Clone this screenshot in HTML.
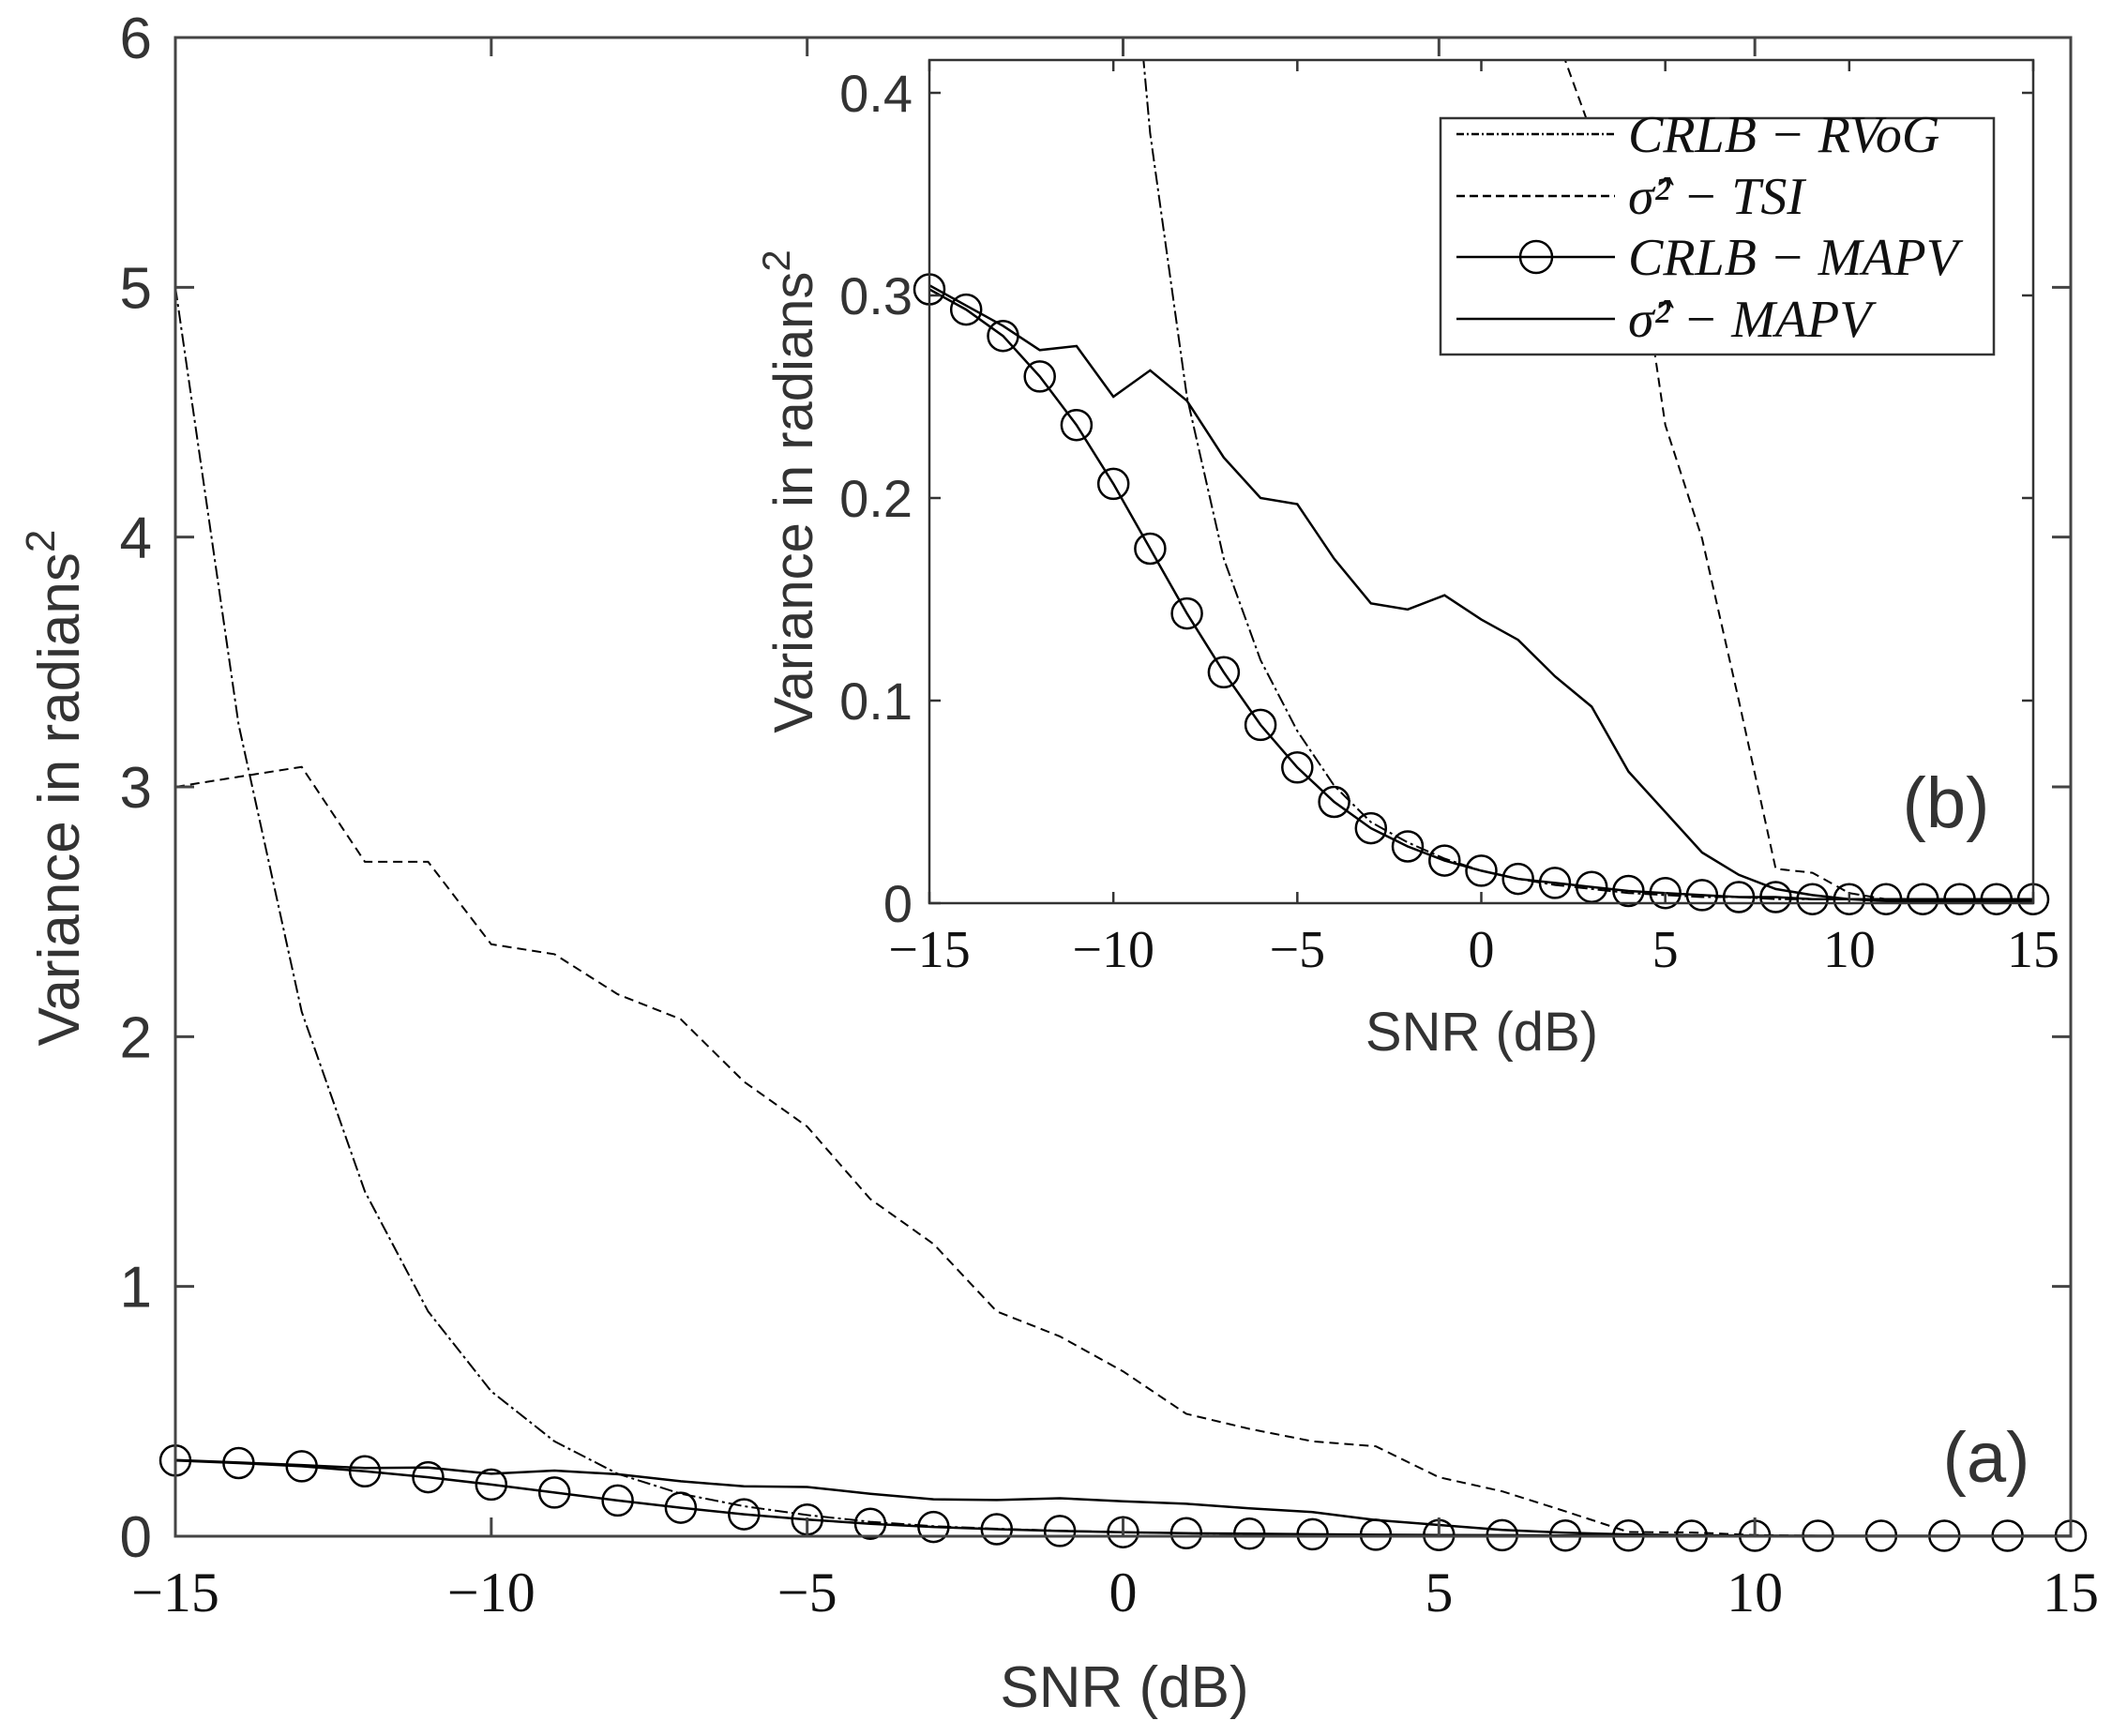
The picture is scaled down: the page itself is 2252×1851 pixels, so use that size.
<!DOCTYPE html>
<html><head><meta charset="utf-8"><style>
html,body{margin:0;padding:0;background:#fff;}
svg{display:block;}
</style></head><body>
<svg id="s" xmlns="http://www.w3.org/2000/svg" width="2252" height="1851" viewBox="0 0 2252 1851"></svg>
<script>
const S=document.getElementById('s');
let h='';
const d=[];for(let i=-15;i<=15;i++)d.push(i);
const rvog=[5.0,3.25,2.1,1.38,0.9,0.58,0.38,0.25,0.17,0.12,0.085,0.058,0.04,0.03,0.022,0.016,0.012,0.009,0.007,0.005,0.004,0.003,0.003,0.002,0.002,0.002,0.002,0.002,0.002,0.002,0.002];
const tsi=[3.0,3.04,3.08,2.7,2.7,2.37,2.33,2.17,2.07,1.82,1.64,1.35,1.17,0.9,0.8,0.66,0.49,0.43,0.38,0.36,0.236,0.18,0.1,0.017,0.015,0.005,0.002,0.002,0.002,0.002,0.002];
const smapv=[0.305,0.295,0.285,0.273,0.275,0.25,0.263,0.248,0.22,0.2,0.197,0.17,0.148,0.145,0.152,0.14,0.13,0.112,0.097,0.065,0.045,0.025,0.014,0.007,0.004,0.002,0.001,0.001,0.001,0.001,0.001];
const cmapv=[0.303,0.293,0.28,0.26,0.236,0.207,0.175,0.143,0.114,0.088,0.067,0.05,0.037,0.028,0.021,0.016,0.012,0.01,0.008,0.006,0.005,0.004,0.003,0.003,0.002,0.002,0.002,0.002,0.002,0.002,0.002];
function plot(X,Y,ymax,clip){
  const line=(arr,dash,w)=>{let p=d.map((k,i)=>X(k).toFixed(1)+','+Y(arr[i]).toFixed(1)).join(' ');
    h+=`<polyline points="${p}" fill="none" stroke="#000" stroke-width="${w}" stroke-dasharray="${dash}" clip-path="url(#${clip})"/>`;};
  line(rvog,'14,4,3,4',2);
  line(tsi,'10,6',2);
  line(smapv,'',2.5);
  line(cmapv,'',2.5);
  d.forEach((k,i)=>{h+=`<circle cx="${X(k).toFixed(1)}" cy="${Y(cmapv[i]).toFixed(1)}" r="16" fill="none" stroke="#000" stroke-width="2.5"/>`;});
}
const L=187,R=2208,T=40,B=1638;
const MX=k=>L+(k+15)*(R-L)/30, MY=v=>B-v*(B-T)/6;
h+=`<defs><clipPath id="cm"><rect x="${L}" y="${T}" width="${R-L}" height="${B-T}"/></clipPath>
<clipPath id="ci"><rect x="991" y="64" width="1177" height="899"/></clipPath></defs>`;
plot(MX,MY,6,'cm');
h+=`<rect x="${L}" y="${T}" width="${R-L}" height="${B-T}" fill="none" stroke="#444" stroke-width="3"/>`;
for(let k=-15;k<=15;k+=5){const x=MX(k);h+=`<line x1="${x}" y1="${B}" x2="${x}" y2="${B-20}" stroke="#444" stroke-width="3"/><line x1="${x}" y1="${T}" x2="${x}" y2="${T+20}" stroke="#444" stroke-width="3"/>`;
 h+=`<text x="${x}" y="${B+80}" font-family="Liberation Serif,serif" font-size="60" text-anchor="middle" fill="#111">${k<0?'\u2212'+(-k):k}</text>`;}
for(let v=0;v<=6;v++){const y=MY(v);h+=`<line x1="${L}" y1="${y}" x2="${L+20}" y2="${y}" stroke="#444" stroke-width="3"/><line x1="${R}" y1="${y}" x2="${R-20}" y2="${y}" stroke="#444" stroke-width="3"/>`;
 h+=`<text x="${L-25}" y="${y+22}" font-family="Liberation Sans,sans-serif" font-size="62" text-anchor="end" fill="#333">${v}</text>`;}
h+=`<text x="1199" y="1820" font-family="Liberation Sans,sans-serif" font-size="62" text-anchor="middle" fill="#333">SNR (dB)</text>`;
h+=`<text transform="translate(84,840) rotate(-90)" font-family="Liberation Sans,sans-serif" font-size="62" text-anchor="middle" fill="#333">Variance in radians<tspan dy="-26" font-size="44">2</tspan></text>`;
h+=`<text x="2118" y="1580" font-family="Liberation Sans,sans-serif" font-size="76" text-anchor="middle" fill="#333">(a)</text>`;
const iL=991,iR=2168,iT=64,iB=963;
const IX=k=>iL+(k+15)*(iR-iL)/30, IY=v=>iB-v*2160;
h+=`<rect x="${iL}" y="${iT}" width="${iR-iL}" height="${iB-iT}" fill="#fff"/>`;
plot(IX,IY,0.42,'ci');
h+=`<rect x="${iL}" y="${iT}" width="${iR-iL}" height="${iB-iT}" fill="none" stroke="#333" stroke-width="2.5"/>`;
for(let k=-15;k<=15;k+=5){const x=IX(k);h+=`<line x1="${x}" y1="${iB}" x2="${x}" y2="${iB-12}" stroke="#333" stroke-width="2.5"/><line x1="${x}" y1="${iT}" x2="${x}" y2="${iT+12}" stroke="#333" stroke-width="2.5"/>`;
 h+=`<text x="${x}" y="${iB+68}" font-family="Liberation Serif,serif" font-size="56" text-anchor="middle" fill="#111">${k<0?'\u2212'+(-k):k}</text>`;}
['0','0.1','0.2','0.3','0.4'].forEach((t,i)=>{const y=IY(i*0.1);h+=`<line x1="${iL}" y1="${y}" x2="${iL+12}" y2="${y}" stroke="#333" stroke-width="2.5"/><line x1="${iR}" y1="${y}" x2="${iR-12}" y2="${y}" stroke="#333" stroke-width="2.5"/>`;
 h+=`<text x="${iL-18}" y="${y+20}" font-family="Liberation Sans,sans-serif" font-size="56" text-anchor="end" fill="#333">${t}</text>`;});
h+=`<text x="1580" y="1120" font-family="Liberation Sans,sans-serif" font-size="58" text-anchor="middle" fill="#333">SNR (dB)</text>`;
h+=`<text transform="translate(866,524) rotate(-90)" font-family="Liberation Sans,sans-serif" font-size="58" text-anchor="middle" fill="#333">Variance in radians<tspan dy="-24" font-size="42">2</tspan></text>`;
h+=`<text x="2075" y="882" font-family="Liberation Sans,sans-serif" font-size="76" text-anchor="middle" fill="#333">(b)</text>`;
// legend
h+=`<rect x="1536" y="126" width="590" height="252" fill="#fff" stroke="#333" stroke-width="2.5"/>`;
const ly=[143,209,274,340];
const lx1=1553,lx2=1722;
h+=`<line x1="${lx1}" y1="${ly[0]}" x2="${lx2}" y2="${ly[0]}" stroke="#000" stroke-width="2.5" stroke-dasharray="8,3,2,3"/>`;
h+=`<line x1="${lx1}" y1="${ly[1]}" x2="${lx2}" y2="${ly[1]}" stroke="#000" stroke-width="2.5" stroke-dasharray="9,5"/>`;
h+=`<line x1="${lx1}" y1="${ly[2]}" x2="${lx2}" y2="${ly[2]}" stroke="#000" stroke-width="2.5"/><circle cx="1638" cy="${ly[2]}" r="17" fill="none" stroke="#000" stroke-width="2.5"/>`;
h+=`<line x1="${lx1}" y1="${ly[3]}" x2="${lx2}" y2="${ly[3]}" stroke="#000" stroke-width="2.5"/>`;
const lab=['CRLB \u2212 RVoG','\u03C3\u0302\u00B2 \u2212 TSI','CRLB \u2212 MAPV','\u03C3\u0302\u00B2 \u2212 MAPV'];
lab.forEach((t,i)=>{h+=`<text x="1736" y="${ly[i]+19}" font-family="Liberation Serif,serif" font-style="italic" font-size="56" fill="#111">${t}</text>`;});
S.innerHTML=h;
</script>
</body></html>
